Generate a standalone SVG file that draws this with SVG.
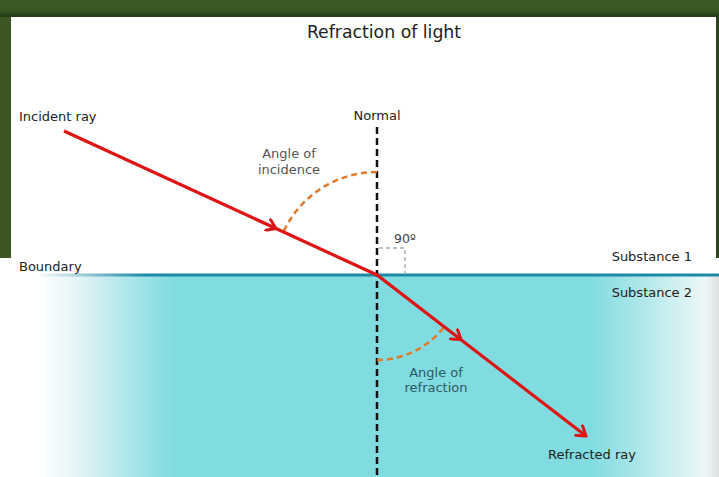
<svg xmlns="http://www.w3.org/2000/svg" width="719" height="477" viewBox="0 0 719 477">
<defs>
<linearGradient id="top" x1="0" y1="0" x2="0" y2="1"><stop offset="0" stop-color="#3b5a23"/><stop offset="0.6" stop-color="#3a5822"/><stop offset="1" stop-color="#243a14"/></linearGradient>
<linearGradient id="water" x1="0" y1="0" x2="719" y2="0" gradientUnits="userSpaceOnUse">
<stop offset="0" stop-color="#ffffff"/><stop offset="0.055" stop-color="#ffffff"/><stop offset="0.12" stop-color="#dcf2f4"/><stop offset="0.19" stop-color="#a4e4e8"/><stop offset="0.24" stop-color="#80dce0"/><stop offset="0.82" stop-color="#80dce0"/><stop offset="0.9" stop-color="#b4e8ea"/><stop offset="0.98" stop-color="#eef8f9"/><stop offset="1" stop-color="#e0e0e0"/></linearGradient>
<linearGradient id="bline" x1="0" y1="0" x2="719" y2="0" gradientUnits="userSpaceOnUse">
<stop offset="0.05" stop-color="#ffffff"/><stop offset="0.2" stop-color="#1c8aa6"/><stop offset="1" stop-color="#1c8aa6"/></linearGradient>
<marker id="chev" viewBox="-10 -7 12 14" markerWidth="12" markerHeight="14" refX="0" refY="0" orient="auto" markerUnits="userSpaceOnUse"><path d="M-9,-6 L0,0 L-9,6" fill="none" stroke="#dd1515" stroke-width="3" stroke-linecap="round" stroke-linejoin="miter"/></marker>
</defs>
<style>
text{font-family:"DejaVu Sans","Liberation Sans",sans-serif;fill:#222}
.lbl{font-size:13px}
.grey{fill:#555}
.teal{fill:#2c5a66}
.ray{stroke:#dd1515;stroke-width:3.2;fill:none}
.arc{stroke:#e07a2a;stroke-width:2.5;fill:none;stroke-dasharray:6 4}
.normal{stroke:#111;stroke-width:2.5;stroke-dasharray:7 4}
.rt{stroke:#aaa;stroke-width:1.5;fill:none;stroke-dasharray:4 3}
</style>
<rect x="0" y="0" width="719" height="477" fill="#ffffff"/>
<rect x="0" y="0" width="719" height="17" fill="url(#top)"/>
<rect x="0" y="17" width="11" height="241" fill="#3b5523"/>
<rect x="716" y="17" width="3" height="241" fill="#2b4419"/>
<rect x="0" y="276" width="719" height="201" fill="url(#water)"/>
<line x1="0" y1="275" x2="719" y2="275" stroke="url(#bline)" stroke-width="3"/>
<text x="384" y="38" text-anchor="middle" font-size="17.3">Refraction of light</text>
<g id="normal">
<line class="normal" x1="377" y1="127" x2="377" y2="477"/>
<text class="lbl" x="377" y="120" text-anchor="middle">Normal</text>
</g>
<g id="right-angle">
<path class="rt" d="M379,248 H405 V273"/>
<text x="394" y="243" font-size="12.5" style="fill:#444">90º</text>
</g>
<g id="angles">
<path class="arc" d="M377,172 A103,103 0 0 0 283.4,232"/>
<text class="lbl grey" x="289" y="158" text-anchor="middle">Angle of</text>
<text class="lbl grey" x="289" y="174" text-anchor="middle">incidence</text>
<path class="arc" d="M377,360 A85,85 0 0 0 444,327"/>
<text class="lbl teal" x="436" y="377" text-anchor="middle">Angle of</text>
<text class="lbl teal" x="436" y="392" text-anchor="middle">refraction</text>
</g>
<g id="connectors">
<path class="ray" d="M64,131 L276,228.5" marker-end="url(#chev)"/>
<path class="ray" d="M276,228.5 L377,275 L461,339.7" marker-end="url(#chev)"/>
<path class="ray" d="M461,339.7 L586,436" marker-end="url(#chev)"/>
</g>
<g id="labels">
<text class="lbl" x="19" y="121">Incident ray</text>
<text class="lbl" x="19" y="271">Boundary</text>
<text class="lbl" x="692" y="261" text-anchor="end">Substance 1</text>
<text class="lbl" x="692" y="297" text-anchor="end">Substance 2</text>
<text class="lbl" x="592" y="459" text-anchor="middle">Refracted ray</text>
</g>
</svg>
